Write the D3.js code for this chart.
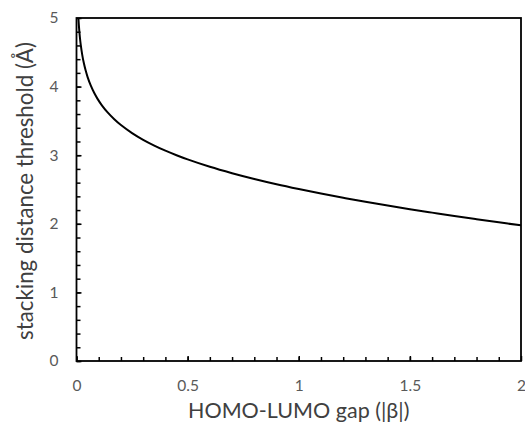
<!DOCTYPE html>
<html>
<head>
<meta charset="utf-8">
<script src="https://cdn.jsdelivr.net/npm/d3@7"></script>
<style>
  html, body { margin: 0; padding: 0; background: #fff; }
  svg { display: block; }
  text { font-family: Lato, "Open Sans", sans-serif; }
</style>
</head>
<body>
<svg id="chart" width="525" height="423"></svg>
<script>
// HOMO-LUMO gap (|β|) and the corresponding stacking distance threshold (Å)
const gapValues = [0.005, 0.007, 0.009, 0.011, 0.015, 0.019, 0.026, 0.033, 0.041, 0.05, 0.064, 0.08, 0.094,
                   0.115, 0.139, 0.17, 0.2, 0.25, 0.3, 0.35, 0.4, 0.45, 0.5,
                   0.6, 0.7, 0.8, 0.9, 1.0, 1.1, 1.2, 1.3, 1.4, 1.5, 1.6, 1.7, 1.8, 1.9, 2.0];
const thresholdValues = [5.26, 5.10, 4.977, 4.878, 4.727, 4.612, 4.46, 4.343, 4.237, 4.139, 4.017, 3.906, 3.825,
                         3.724, 3.628, 3.525, 3.44, 3.323, 3.225, 3.141, 3.066, 3.0, 2.939,
                         2.831, 2.738, 2.654, 2.577, 2.507, 2.441, 2.38, 2.321, 2.266, 2.213, 2.163, 2.114, 2.067, 2.021, 1.977];

const xMajorTicks = [0, 0.5, 1, 1.5, 2];
const xMinorTicks = d3.range(0, 20).map(i => i / 10);
const xTickLabels = ["0", "0.5", "1", "1.5", "2"];
const yMajorTicks = [0, 1, 2, 3, 4, 5];
const yMinorTicks = d3.range(0, 25).map(i => i / 5);
const yTickLabels = ["0", "1", "2", "3", "4", "5"];

const xTitle = "HOMO-LUMO gap (|β|)";
const yTitle = "stacking distance threshold (Å)";

const svg = d3.select("#chart");
const plot = { left: 76.5, right: 521, top: 18, bottom: 361 };

const x = d3.scaleLinear().domain([0, 2]).range([plot.left, plot.right]);
const y = d3.scaleLinear().domain([0, 5]).range([plot.bottom, plot.top]);

// clip the curve to the plotting area
svg.append("defs").append("clipPath").attr("id", "plotClip")
  .append("rect")
  .attr("x", plot.left).attr("y", plot.top)
  .attr("width", plot.right - plot.left).attr("height", plot.bottom - plot.top);

// minor ticks (inward)
const xMinorAxis = d3.axisBottom(x).tickValues(xMinorTicks).tickSizeInner(-4).tickSizeOuter(0).tickFormat("");
const yMinorAxis = d3.axisLeft(y).tickValues(yMinorTicks).tickSizeInner(-4).tickSizeOuter(0).tickFormat("");
svg.append("g").attr("transform", `translate(0,${plot.bottom})`).call(xMinorAxis)
  .call(g => g.select(".domain").remove())
  .call(g => g.selectAll("line").attr("stroke", "#000").attr("stroke-width", 1.5));
svg.append("g").attr("transform", `translate(${plot.left},0)`).call(yMinorAxis)
  .call(g => g.select(".domain").remove())
  .call(g => g.selectAll("line").attr("stroke", "#000").attr("stroke-width", 1.5));

// major ticks with labels
const xAxis = d3.axisBottom(x).tickValues(xMajorTicks).tickSizeInner(-5).tickSizeOuter(0)
  .tickPadding(19).tickFormat((d, i) => xTickLabels[i]);
const yAxis = d3.axisLeft(y).tickValues(yMajorTicks).tickSizeInner(-5).tickSizeOuter(0)
  .tickPadding(18).tickFormat((d, i) => yTickLabels[i]);

svg.append("g").attr("transform", `translate(0,${plot.bottom})`).call(xAxis)
  .call(g => g.select(".domain").remove())
  .call(g => g.selectAll("line").attr("stroke", "#000").attr("stroke-width", 1.5))
  .call(g => g.selectAll("text").attr("font-size", 15.5).attr("fill", "#595959")
    .attr("font-family", "Lato, sans-serif"));
svg.append("g").attr("transform", `translate(${plot.left},0)`).call(yAxis)
  .call(g => g.select(".domain").remove())
  .call(g => g.selectAll("line").attr("stroke", "#000").attr("stroke-width", 1.5))
  .call(g => g.selectAll("text").attr("font-size", 15.5).attr("fill", "#595959")
    .attr("font-family", "Lato, sans-serif"));

// plot frame
svg.append("rect")
  .attr("x", plot.left).attr("y", plot.top)
  .attr("width", plot.right - plot.left).attr("height", plot.bottom - plot.top)
  .attr("fill", "none").attr("stroke", "#000").attr("stroke-width", 1.8);

// threshold curve
const points = gapValues.map((g, i) => [g, thresholdValues[i]]);
const line = d3.line().x(d => x(d[0])).y(d => y(d[1])).curve(d3.curveCatmullRom.alpha(0.5));
svg.append("path")
  .datum(points)
  .attr("clip-path", "url(#plotClip)")
  .attr("d", line)
  .attr("fill", "none")
  .attr("stroke", "#000")
  .attr("stroke-width", 2);

// axis titles
svg.append("text")
  .attr("x", (plot.left + plot.right) / 2).attr("y", 418)
  .attr("text-anchor", "middle").attr("font-size", 21.5).attr("fill", "#404040")
  .text(xTitle);
svg.append("text")
  .attr("transform", "translate(33,191) rotate(-90)")
  .attr("text-anchor", "middle").attr("font-size", 22.3).attr("fill", "#404040")
  .text(yTitle);
</script>
</body>
</html>
